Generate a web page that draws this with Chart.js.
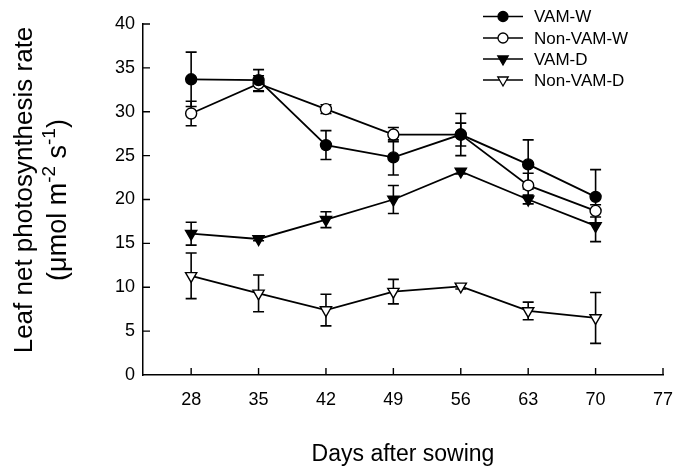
<!DOCTYPE html>
<html>
<head>
<meta charset="utf-8">
<script src="https://cdn.jsdelivr.net/npm/chart.js@4/dist/chart.umd.min.js"></script>
<style>
  html, body { margin: 0; padding: 0; background: #fff; }
  #wrap { width: 674px; height: 467px; position: relative; }
</style>
</head>
<body>
<div id="wrap"><canvas id="myChart"></canvas></div>
<script>
// days after sowing (x) and tick labels
var days = [28, 35, 42, 49, 56, 63, 70];
var xTicks = [28, 35, 42, 49, 56, 63, 70, 77];

// series means
var vamW = [33.7, 33.6, 26.2, 24.8, 27.4, 24.0, 20.3];
var nonVamW = [29.8, 33.2, 30.3, 27.4, 27.4, 21.6, 18.7];
var vamD = [16.1, 15.5, 17.7, 20.0, 23.2, 20.0, 17.0];
var nonVamD = [11.3, 9.3, 7.4, 9.5, 10.1, 7.3, 6.5];

// error bar half-lengths
var vamWErr = [3.1, 1.2, 1.65, 2.0, 2.4, 2.8, 3.1];
var nonVamWErr = [1.4, 0.9, 0.5, 0.8, 1.3, 1.4, 0.7];
var vamDErr = [1.3, 0.2, 0.9, 1.6, 0.3, 0.5, 1.8];
var nonVamDErr = [2.6, 2.1, 1.8, 1.4, 0.3, 1.0, 2.9];

var FONT = "'Liberation Sans', Arial, sans-serif";

function pts(vals) {
	return days.map(function(d, i) { return { x: d, y: vals[i] }; });
}

function series(label, vals, errs, style, filled, radius) {
	return {
		label: label,
		data: pts(vals),
		errors: errs,
		showLine: true,
		borderColor: "#000",
		borderWidth: 1.8,
		pointStyle: style,
		pointRotation: style === "triangle" ? 180 : 0,
		pointRadius: radius,
		pointHoverRadius: radius,
		pointBackgroundColor: filled ? "#000" : "#fff",
		pointBorderColor: "#000",
		pointBorderWidth: 1.4,
		tension: 0
	};
}

// error bars, inward tick marks, legend and axis titles
var extras = {
	id: "extras",
	beforeDatasetsDraw: function(chart) {
		var ctx = chart.ctx, xs = chart.scales.x, ys = chart.scales.y;
		ctx.save();
		ctx.strokeStyle = "#000";
		ctx.lineWidth = 1.6;
		chart.data.datasets.forEach(function(ds) {
			ds.data.forEach(function(p, i) {
				var e = ds.errors[i];
				var px = xs.getPixelForValue(p.x);
				var top = ys.getPixelForValue(p.y + e);
				var bot = ys.getPixelForValue(p.y - e);
				ctx.beginPath();
				ctx.moveTo(px, top); ctx.lineTo(px, bot);
				ctx.moveTo(px - 5.5, top); ctx.lineTo(px + 5.5, top);
				ctx.moveTo(px - 5.5, bot); ctx.lineTo(px + 5.5, bot);
				ctx.stroke();
			});
		});
		// inward ticks
		ctx.lineWidth = 1.4;
		ctx.beginPath();
		xTicks.forEach(function(v) {
			var px = xs.getPixelForValue(v);
			ctx.moveTo(px, xs.top); ctx.lineTo(px, xs.top - 7);
		});
		ys.ticks.forEach(function(t) {
			if (t.value === 0) return;
			var py = ys.getPixelForValue(t.value);
			ctx.moveTo(ys.right, py); ctx.lineTo(ys.right + 7, py);
		});
		ctx.stroke();
		ctx.restore();
	},
	afterDraw: function(chart) {
		var ctx = chart.ctx;
		ctx.save();
		// legend
		var lx0 = 483, lx1 = 523, mx = 503, tx = 534;
		var rows = [16.5, 38, 59, 80];
		ctx.font = "17px " + FONT;
		ctx.textBaseline = "middle";
		ctx.textAlign = "left";
		chart.data.datasets.forEach(function(ds, i) {
			var y = rows[i];
			ctx.strokeStyle = "#000";
			ctx.lineWidth = 1.6;
			ctx.beginPath(); ctx.moveTo(lx0, y); ctx.lineTo(lx1, y); ctx.stroke();
			ctx.fillStyle = ds.pointBackgroundColor;
			ctx.lineWidth = 1.3;
			Chart.helpers.drawPoint(ctx, {
				pointStyle: ds.pointStyle,
				rotation: ds.pointRotation,
				radius: ds.pointRadius - 0.5,
				borderWidth: 1.3
			}, mx, y);
			ctx.fillStyle = "#000";
			ctx.fillText(ds.label, tx, y + 1);
		});

		// x title
		ctx.fillStyle = "#000";
		ctx.font = "23px " + FONT;
		ctx.textAlign = "center";
		ctx.textBaseline = "alphabetic";
		ctx.fillText("Days after sowing", 403, 461);

		// y title, two lines rotated
		ctx.translate(32, 190);
		ctx.rotate(-Math.PI / 2);
		ctx.font = "26px " + FONT;
		ctx.fillText("Leaf net photosynthesis rate", 0, 0);
		ctx.restore();

		ctx.save();
		ctx.translate(66, 200);
		ctx.rotate(-Math.PI / 2);
		var big = "27px " + FONT, small = "19px " + FONT;
		var parts = [["(\u03bcmol m", big, 0], ["-2", small, -11], [" s", big, 0], ["-1", small, -11], [")", big, 0]];
		var total = 0;
		parts.forEach(function(p) { ctx.font = p[1]; total += ctx.measureText(p[0]).width; });
		var cx = -total / 2;
		ctx.textAlign = "left";
		ctx.fillStyle = "#000";
		parts.forEach(function(p) {
			ctx.font = p[1];
			ctx.fillText(p[0], cx, p[2]);
			cx += ctx.measureText(p[0]).width;
		});
		ctx.restore();
	}
};

var ctx = document.getElementById("myChart").getContext("2d");
var chart = new Chart(ctx, {
	type: "scatter",
	data: {
		datasets: [
			series("VAM-W", vamW, vamWErr, "circle", true, 5.5),
			series("Non-VAM-W", nonVamW, nonVamWErr, "circle", false, 5.5),
			series("VAM-D", vamD, vamDErr, "triangle", true, 6.5),
			series("Non-VAM-D", nonVamD, nonVamDErr, "triangle", false, 6.5)
		]
	},
	options: {
		responsive: true,
		maintainAspectRatio: false,
		animation: false,
		layout: { padding: { left: 0, top: 24, right: 11, bottom: 0 } },
		plugins: { legend: { display: false }, tooltip: { enabled: false } },
		scales: {
			x: {
				type: "linear",
				min: 23,
				max: 77,
				afterBuildTicks: function(s) { s.ticks = xTicks.map(function(v) { return { value: v }; }); },
				afterFit: function(s) { s.height = 92; s.paddingLeft = 0; s.paddingRight = 0; },
				grid: { display: true, drawOnChartArea: false, drawTicks: false },
				border: { display: true, color: "#000", width: 1.5 },
				ticks: { color: "#000", padding: 14, font: { family: FONT, size: 18 }, maxRotation: 0 }
			},
			y: {
				min: 0,
				max: 40,
				afterFit: function(s) { s.width = 143; s.paddingTop = 0; s.paddingBottom = 0; },
				grid: { display: true, drawOnChartArea: false, drawTicks: false },
				border: { display: true, color: "#000", width: 1.5 },
				ticks: { color: "#000", stepSize: 5, padding: 8, font: { family: FONT, size: 18 } }
			}
		}
	},
	plugins: [extras]
});
</script>
</body>
</html>
